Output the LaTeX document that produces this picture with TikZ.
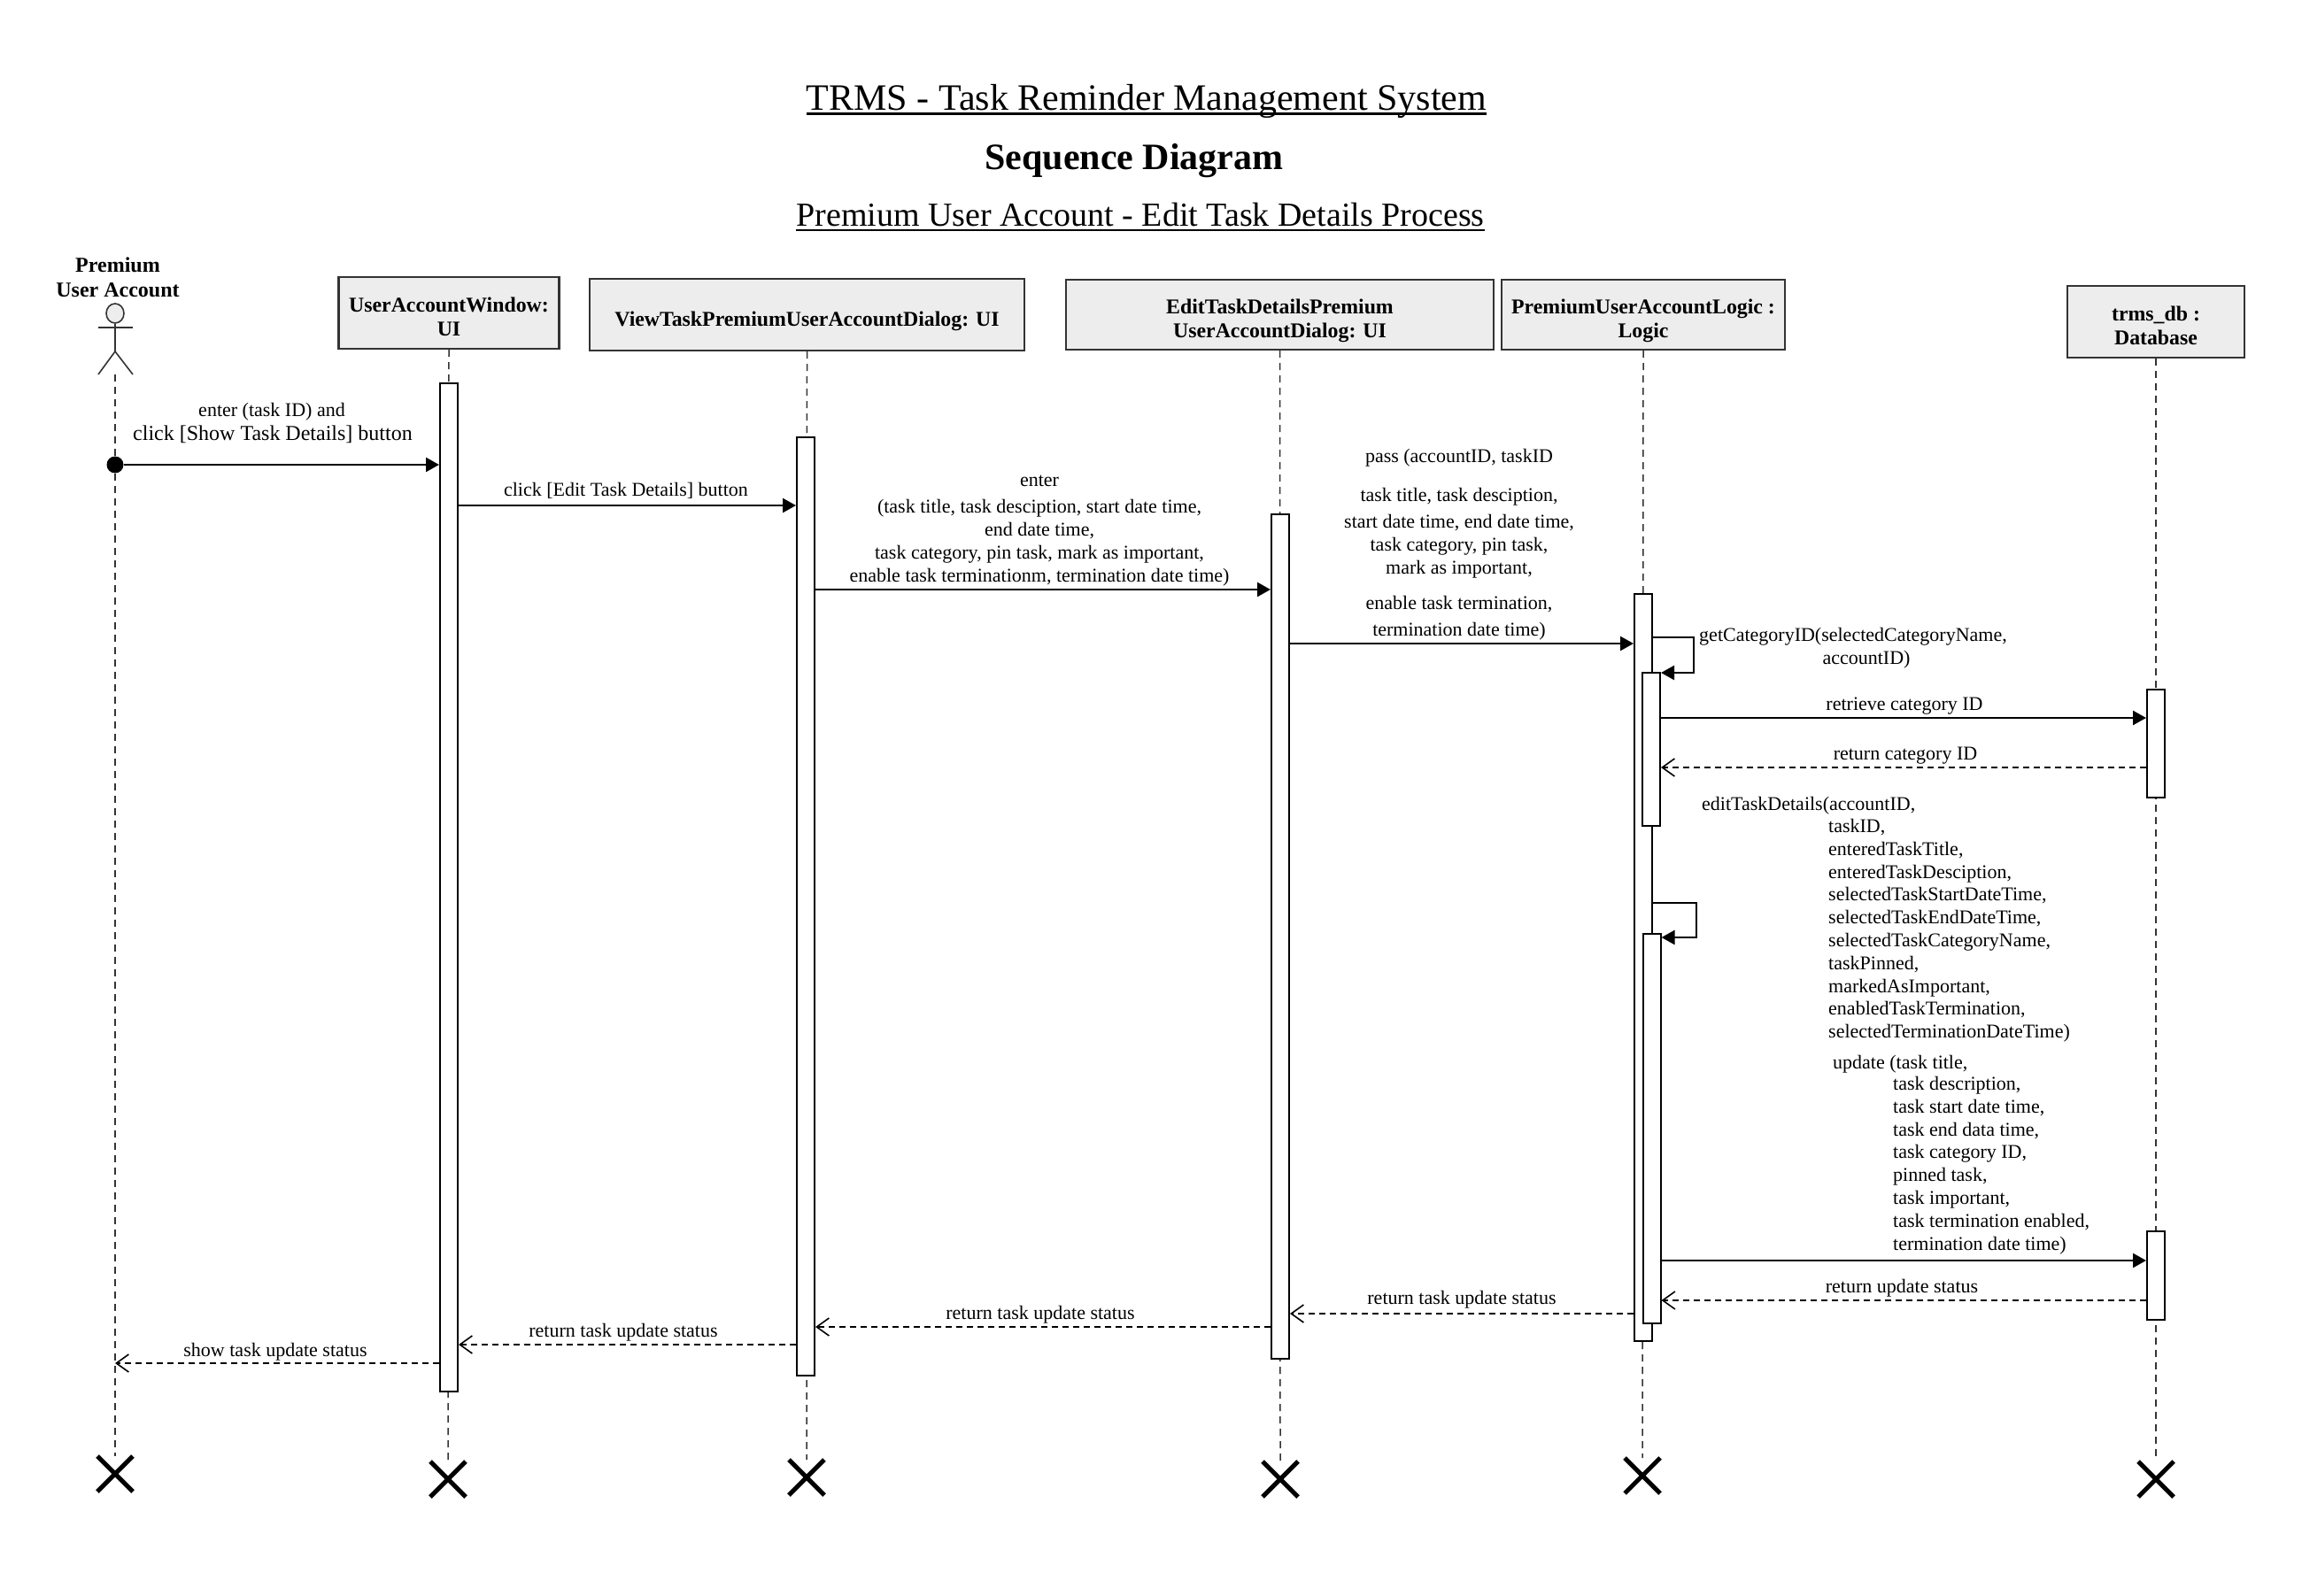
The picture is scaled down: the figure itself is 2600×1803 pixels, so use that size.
\documentclass[tikz,border=0pt]{standalone}
\usepackage{fontspec}
\setmainfont{Liberation Serif}
\usetikzlibrary{arrows.meta,shapes.misc,shapes.geometric}
\newcommand{\ulined}[1]{\setbox0\hbox{#1}\rlap{\rule[-6pt]{\wd0}{2.6pt}}\box0}
\tikzset{
seqbox/.style={draw=black!80,fill=black!7,line width=2.4pt,inner sep=0pt,align=center,font=\fontsize{23.8}{27.5}\selectfont\bfseries},
actbar/.style={draw=black,fill=white,line width=2pt,inner sep=0pt,minimum width=20pt},
endcross/.style={cross out,draw=black,line width=5pt,minimum size=40pt,inner sep=0pt,outer sep=0pt},
lifeline/.style={draw=black!80,line width=1.5pt,dash pattern=on 8pt off 6pt},
msgline/.style={line width=2.4pt,-{Triangle[length=15pt,width=16pt]}},
retline/.style={line width=2pt,dash pattern=on 7pt off 5pt,-{Straight Barb[length=14pt,width=20pt,line width=1.6pt]}},
msglabel/.style={inner sep=0pt,align=center,font=\fontsize{22}{26}\selectfont},
argslabel/.style={inner sep=0pt,align=left,anchor=north west,font=\fontsize{22}{25.8}\selectfont}
}
\begin{document}
\begin{tikzpicture}[x=1pt,y=-1pt]
\useasboundingbox (0,0) rectangle (2600,1803);

\node[inner sep=0pt,font=\fontsize{42}{48}\selectfont] (title) at (1295,114) {\ulined{TRMS - Task Reminder Management System}};
\node[inner sep=0pt,font=\fontsize{42}{48}\selectfont\bfseries] (heading) at (1281,182) {Sequence Diagram};
\node[inner sep=0pt,font=\fontsize{38}{46}\selectfont] (subtitle) at (1288,245) {\ulined{Premium User Account - Edit Task Details Process}};

\node[inner sep=0pt,align=center,font=\fontsize{24}{28}\selectfont\bfseries] (actorName) at (133,313) {Premium\\User Account};
\node[ellipse,draw=black!80,fill=black!7,line width=1.6pt,minimum width=20pt,minimum height=22pt,inner sep=0pt] (actorHead) at (130,354) {};
\coordinate (actorHip) at (130,397);
\coordinate (actorFoot) at (130,423);
\draw[line width=1.6pt,draw=black!80] (actorHead.south) -- (actorHip);
\draw[line width=1.6pt,draw=black!80] (111,370) -- (150,370);
\draw[line width=1.6pt,draw=black!80] (111,423) -- (actorHip) -- (150,423);

\node[seqbox,minimum width=249pt,minimum height=81pt] (boxWindow) at (507,353.5) {\rule{0pt}{25pt}UserAccountWindow:\\UI};
\node[seqbox,minimum width=491pt,minimum height=81pt] (boxView) at (911.5,355.5) {\rule{0pt}{32pt}ViewTaskPremiumUserAccountDialog: UI};
\node[seqbox,minimum width=483pt,minimum height=79pt] (boxEdit) at (1445.5,355.5) {\rule{0pt}{30pt}EditTaskDetailsPremium\\UserAccountDialog: UI};
\node[seqbox,minimum width=320pt,minimum height=79pt] (boxLogic) at (1856,355.5) {\rule{0pt}{30pt}PremiumUserAccountLogic :\\Logic};
\node[seqbox,minimum width=200pt,minimum height=81pt] (boxDb) at (2435,363.5) {\rule{0pt}{25pt}trms\_db :\\Database};

\node[endcross] (endActor) at (130,1665) {};
\node[endcross] (endWindow) at (506,1671) {};
\node[endcross] (endView) at (911,1669) {};
\node[endcross] (endEdit) at (1446,1671) {};
\node[endcross] (endLogic) at (1855,1667) {};
\node[endcross] (endDb) at (2435,1671) {};

\draw[lifeline] (actorFoot) -- (endActor.north);
\draw[lifeline] (boxWindow.south) -- (endWindow.north);
\draw[lifeline] (boxView.south) -- (endView.north);
\draw[lifeline] (boxEdit.south) -- (endEdit.north);
\draw[lifeline] (boxLogic.south) -- (endLogic.north);
\draw[lifeline] (boxDb.south) -- (endDb.north);

\node[actbar,minimum height=1139pt] (actWindow) at (507,1002) {};
\node[actbar,minimum height=1060pt] (actView) at (910,1024) {};
\node[actbar,minimum height=954pt] (actEdit) at (1446,1057.5) {};
\node[actbar,minimum height=844pt] (actLogic) at (1856,1092.5) {};
\node[actbar,minimum height=173pt] (actCategory) at (1865,846) {};
\node[actbar,minimum height=440pt] (actDetails) at (1865.5,1274.5) {};
\node[actbar,minimum height=122pt] (actDbRead) at (2435,839.5) {};
\node[actbar,minimum height=100pt] (actDbWrite) at (2435,1440.5) {};

\node[circle,fill=black,minimum size=19pt,inner sep=0pt] (actorDot) at (130,525) {};
\coordinate (msgEdit) at (0,571);
\coordinate (msgEnter) at (0,666);
\coordinate (msgPass) at (0,727);
\coordinate (selfCatA) at (0,720);
\coordinate (selfCatB) at (0,760);
\coordinate (msgRetrieve) at (0,811);
\coordinate (retCategory) at (0,867);
\coordinate (selfEditA) at (0,1020);
\coordinate (selfEditB) at (0,1059);
\coordinate (msgUpdate) at (0,1424);
\coordinate (retUpdate) at (0,1469);
\coordinate (retLogic) at (0,1484);
\coordinate (retEdit) at (0,1499);
\coordinate (retView) at (0,1519);
\coordinate (retWindow) at (0,1540);

\draw[msgline] (actorDot) -- (actWindow.west |- actorDot);
\draw[msgline] (actWindow.east |- msgEdit) -- (actView.west |- msgEdit);
\draw[msgline] (actView.east |- msgEnter) -- (actEdit.west |- msgEnter);
\draw[msgline] (actEdit.east |- msgPass) -- (actLogic.west |- msgPass);
\draw[msgline] (actLogic.east |- selfCatA) -- ++(46,0) |- (actCategory.east |- selfCatB);
\draw[msgline] (actCategory.east |- msgRetrieve) -- (actDbRead.west |- msgRetrieve);
\draw[retline] (actDbRead.west |- retCategory) -- (actCategory.east |- retCategory);
\draw[msgline] (actLogic.east |- selfEditA) -- ++(49,0) |- (actDetails.east |- selfEditB);
\draw[msgline] (actDetails.east |- msgUpdate) -- (actDbWrite.west |- msgUpdate);
\draw[retline] (actDbWrite.west |- retUpdate) -- (actDetails.east |- retUpdate);
\draw[retline] (actLogic.west |- retLogic) -- (actEdit.east |- retLogic);
\draw[retline] (actEdit.west |- retEdit) -- (actView.east |- retEdit);
\draw[retline] (actView.west |- retView) -- (actWindow.east |- retView);
\draw[retline] (actWindow.west |- retWindow) -- (actorDot |- retWindow);

\node[msglabel] (lblTaskId) at (307,465) {enter (task ID) and};
\node[msglabel,font=\fontsize{24}{26}\selectfont] (lblShow) at (308,491) {click [Show Task Details] button};
\node[msglabel] (lblEdit) at (707,554) {click [Edit Task Details] button};
\node[msglabel] (lblEnter) at (1174,600) {enter\\[4pt](task title, task desciption, start date time,\\end date time,\\task category, pin task, mark as important,\\enable task terminationm, termination date time)};
\node[msglabel] (lblPass) at (1648,615) {pass (accountID, taskID\\[18pt]task title, task desciption,\\[4pt]start date time, end date time,\\task category, pin task,\\mark as important,\\[14pt]enable task termination,\\[4pt]termination date time)};
\node[msglabel] (lblCategory) at (2093,732) {getCategoryID(selectedCategoryName,\\\hspace*{30pt}accountID)};
\node[msglabel] (lblRetrieve) at (2151,798) {retrieve category ID};
\node[msglabel] (lblRetCategory) at (2152,854) {return category ID};
\node[msglabel,anchor=west] (lblDetails) at (1922,910) {editTaskDetails(accountID,};
\node[argslabel] (lblDetailsArgs) at (2065,925) {taskID,\\enteredTaskTitle,\\enteredTaskDesciption,\\selectedTaskStartDateTime,\\selectedTaskEndDateTime,\\selectedTaskCategoryName,\\taskPinned,\\markedAsImportant,\\enabledTaskTermination,\\selectedTerminationDateTime)};
\node[msglabel,anchor=west] (lblUpdate) at (2070,1202) {update (task title,};
\node[argslabel] (lblUpdateArgs) at (2138,1216) {task description,\\task start date time,\\task end data time,\\task category ID,\\pinned task,\\task important,\\task termination enabled,\\termination date time)};
\node[msglabel] (lblRetUpdate) at (2148,1455) {return update status};
\node[msglabel] (lblRetLogic) at (1651,1468) {return task update status};
\node[msglabel] (lblRetEdit) at (1175,1485) {return task update status};
\node[msglabel] (lblRetView) at (704,1505) {return task update status};
\node[msglabel] (lblRetWindow) at (311,1527) {show task update status};
\end{tikzpicture}
\end{document}
